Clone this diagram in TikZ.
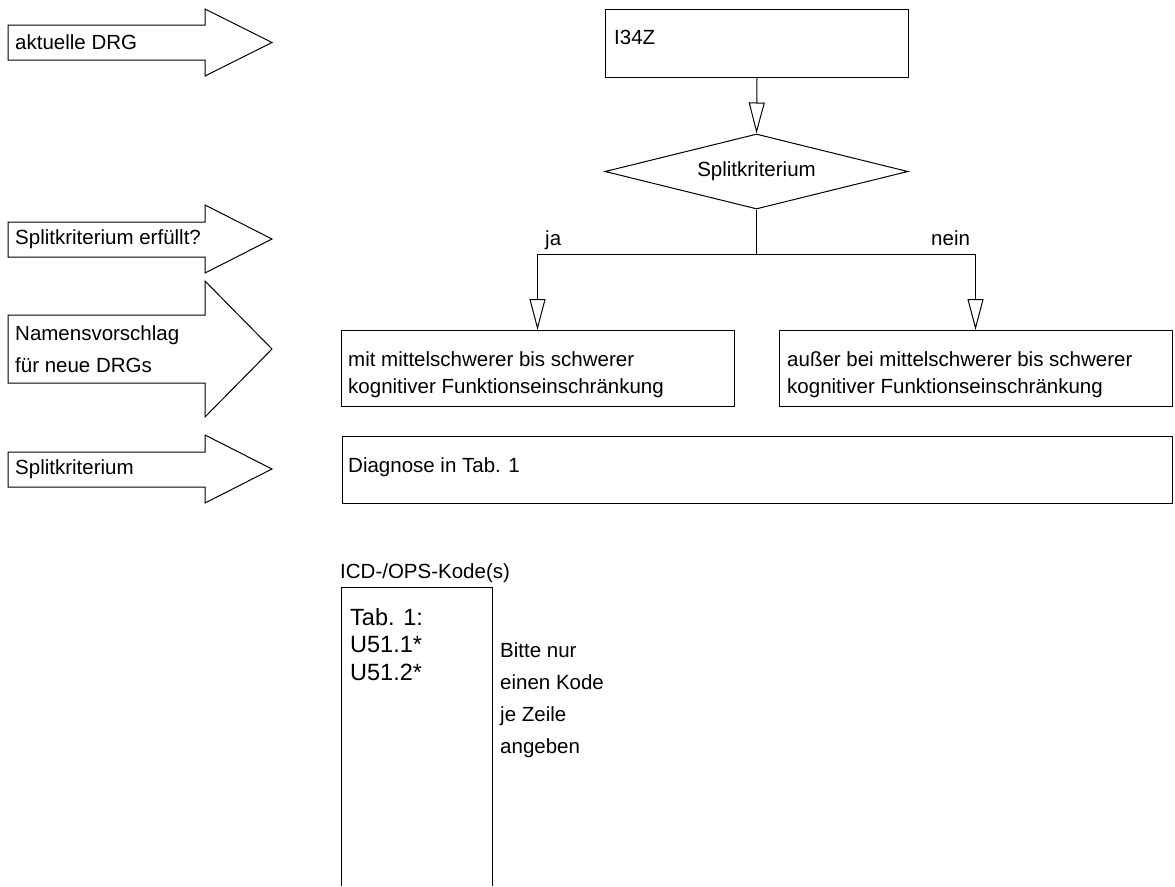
\documentclass[tikz,border=0pt]{standalone}
\usepackage{fontspec}
\setmainfont{Liberation Sans}
\usepackage{tikz}
\usetikzlibrary{arrows.meta,shapes.geometric,positioning}
\definecolor{ink}{HTML}{000000}
\tikzset{
  base/.style={draw=ink, line width=1pt, line join=miter},
  box/.style={base, rectangle, inner sep=0pt, anchor=north west},
  decision/.style={base, diamond, aspect=4, inner sep=0pt, font=\fontsize{20.5}{27}\selectfont},
  conn/.style={draw=ink, line width=1pt},
  flow/.style={conn, -{Triangle[length=31pt, width=16pt, fill=white]}},
  lab/.style={text=ink, inner sep=0pt, font=\fontsize{20.5}{27.5}\selectfont, align=left},
  big/.style={text=ink, inner sep=0pt, font=\fontsize{23.5}{27.5}\selectfont},
}
% wide arrow on the left: name, shaft top, shaft bottom, head top, head bottom, text
\newcommand\infoarrow[6]{%
  \draw[base] (8,#2) -- (205,#2) -- (205,#4) -- (272,{(#4+#5)/2})
    -- (205,#5) -- (205,#3) -- (8,#3) -- cycle;
  \node[lab, font=\fontsize{20.5}{32}\selectfont, anchor=west] (#1) at (15,{(#2+#3)/2}) {#6};
}

\begin{document}
\begin{tikzpicture}[x=1pt, y=-1pt]
  \useasboundingbox (0,0) rectangle (1175,886);

  % left column
  \infoarrow{aktuell}{25}{60}{9}{76}{aktuelle DRG}
  \infoarrow{erfuellt}{222}{257}{205}{273}{Splitkriterium erfüllt?}
  \infoarrow{namen}{315}{383}{281}{417}{Namensvorschlag\\für neue DRGs}
  \infoarrow{kriterium}{452}{487}{435}{503}{Splitkriterium}

  % flow chart
  \node[box, minimum width=303, minimum height=68] (drg) at (605,9) {};
  \node[lab, below right=21pt and 9pt of drg.north west] (drgtext) {I34Z};
  \node[decision, minimum width=303, minimum height=75] (split) at (756.5,171.5) {Splitkriterium};
  \node[box, minimum width=393, minimum height=76] (mit) at (341,330) {};
  \node[lab, below right=21pt and 7pt of mit.north west] (mittext)
    {mit mittelschwerer bis schwerer\\kognitiver Funktionseinschränkung};
  \node[box, minimum width=393, minimum height=76] (ausser) at (779,330) {};
  \node[lab, below right=21pt and 8pt of ausser.north west] (aussertext)
    {außer bei mittelschwerer bis schwerer\\kognitiver Funktionseinschränkung};
  \node[box, minimum width=830, minimum height=67] (diag) at (342,436) {};
  \node[lab, below right=21pt and 6pt of diag.north west] (diagtext) {Diagnose in Tab. 1};

  \coordinate (fork) at (756.5,254);
  \coordinate (ja) at (537.5,254);
  \coordinate (nein) at (975.5,254);
  \draw[flow] (drg.south) -- (split.north);
  \draw[conn] (split.south) -- (fork);
  \draw[flow] (fork) -- (ja) -- (ja |- mit.north);
  \draw[flow] (fork) -- (nein) -- (nein |- ausser.north);
  \node[lab, anchor=base west] (jalab) at (545,245) {ja};
  \node[lab, anchor=base west] (neinlab) at (931,245) {nein};

  % codes
  \node[lab, anchor=base west] (icd) at (340,578) {ICD-/OPS-Kode(s)};
  \draw[base] (341,886) |- (492,587) -- (492,886);
  \foreach \t [count=\i from 0] in {Tab. 1:, U51.1*, U51.2*}
    \node[big, anchor=base west] (tab\i) at (350,{625+27.5*\i}) {\t};
  \foreach \t [count=\i from 0] in {Bitte nur, einen Kode, je Zeile, angeben}
    \node[lab, anchor=base west] (hint\i) at (500,{657+32*\i}) {\t};
\end{tikzpicture}
\end{document}
